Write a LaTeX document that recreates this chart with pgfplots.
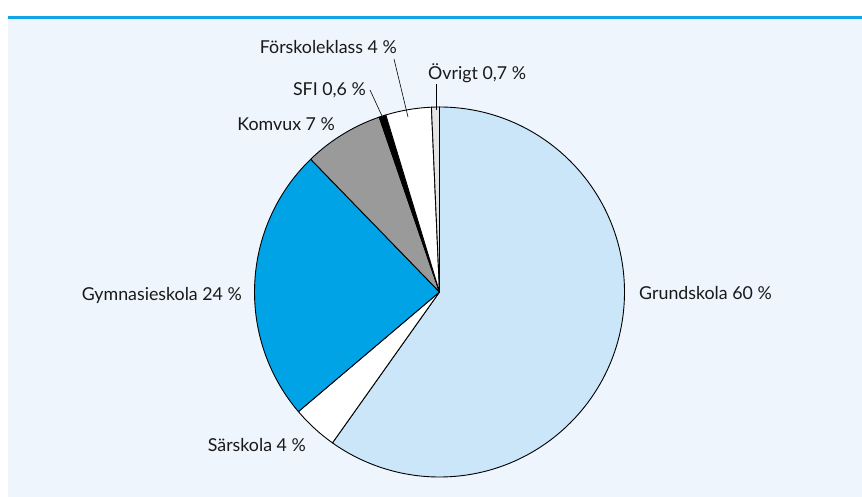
\documentclass[border=0pt]{standalone}
\usepackage{pgfplots}
\usepackage{pgfplotstable}
\pgfplotsset{compat=1.18}
\usepackage{fontspec}
\setmainfont{Lato}
\definecolor{bgc}{HTML}{EEF5FC}
\definecolor{topblue}{HTML}{12A5E6}
\definecolor{grund}{HTML}{CBE6F8}
\definecolor{gymn}{HTML}{00A3E6}
\definecolor{komvux}{HTML}{9A9A9A}
\definecolor{ovrigt}{HTML}{E4E4E4}

\pgfplotstableread[col sep=comma]{
name,value,color
Grundskola,60,grund
Särskola,4,white
Gymnasieskola,24,gymn
Komvux,7,komvux
SFI,0.6,black
Förskoleklass,4,white
Övrigt,0.7,ovrigt
}\piedata

\begin{document}
\begin{tikzpicture}[x=1pt,y=1pt]
\useasboundingbox (0,0) rectangle (862,497);
\fill[bgc] (8,0) rectangle (862,478);
\draw[line width=3pt, topblue] (8,479.5) -- (862,479.5);
\begin{axis}[
  scale only axis, width=370pt, height=370pt,
  xmin=-1, xmax=1, ymin=-1, ymax=1,
  hide axis, clip=false,
  at={(254.5pt,20pt)}, anchor=south west,
]
\pgfplotstablegetrowsof{\piedata}
\pgfmathtruncatemacro\N{\pgfplotsretval-1}
\gdef\tot{0}
\pgfplotsforeachungrouped \i in {0,...,\N}{%
  \pgfplotstablegetelem{\i}{value}\of\piedata
  \pgfmathsetmacro\newtot{\tot+\pgfplotsretval}%
  \global\let\tot\newtot
}
\gdef\cur{90}
\pgfplotsforeachungrouped \i in {0,...,\N}{%
  \pgfplotstablegetelem{\i}{value}\of\piedata \let\v\pgfplotsretval
  \pgfplotstablegetelem{\i}{color}\of\piedata \let\c\pgfplotsretval
  \pgfmathsetmacro\nxt{\cur - \v/\tot*360}%
  \pgfmathsetmacro\xa{cos(\cur)}%
  \pgfmathsetmacro\ya{sin(\cur)}%
  \edef\temp{\noexpand\addplot[fill=\c, draw=black, line width=0.9pt, mark=none, line join=round] coordinates {(0,0) (\xa,\ya)} arc[start angle=\cur, end angle=\nxt, radius=185pt] -- cycle;}%
  \temp
  \global\let\cur\nxt
}
\end{axis}
\begin{scope}[every node/.style={font=\fontsize{17.8}{20}\selectfont, inner sep=0pt, text=black!90}]
\node[anchor=west] at (639,204) {Grundskola 60 \%};
\node[anchor=east] at (242,202) {Gymnasieskola 24 \%};
\node[anchor=east] at (306,52) {Särskola 4 \%};
\node[anchor=east] at (335,373) {Komvux 7 \%};
\node[anchor=east] at (366,407) {SFI 0,6 \%};
\node[anchor=east] at (397,450) {Förskoleklass 4 \%};
\node[anchor=west] at (428,424) {Övrigt 0,7 \%};
\end{scope}
\draw[line width=0.6pt] (394,438) -- (408,380);
\draw[line width=0.6pt] (370,407) -- (382,381);
\draw[line width=0.6pt] (436,413) -- (436,387);
\end{tikzpicture}
\end{document}
